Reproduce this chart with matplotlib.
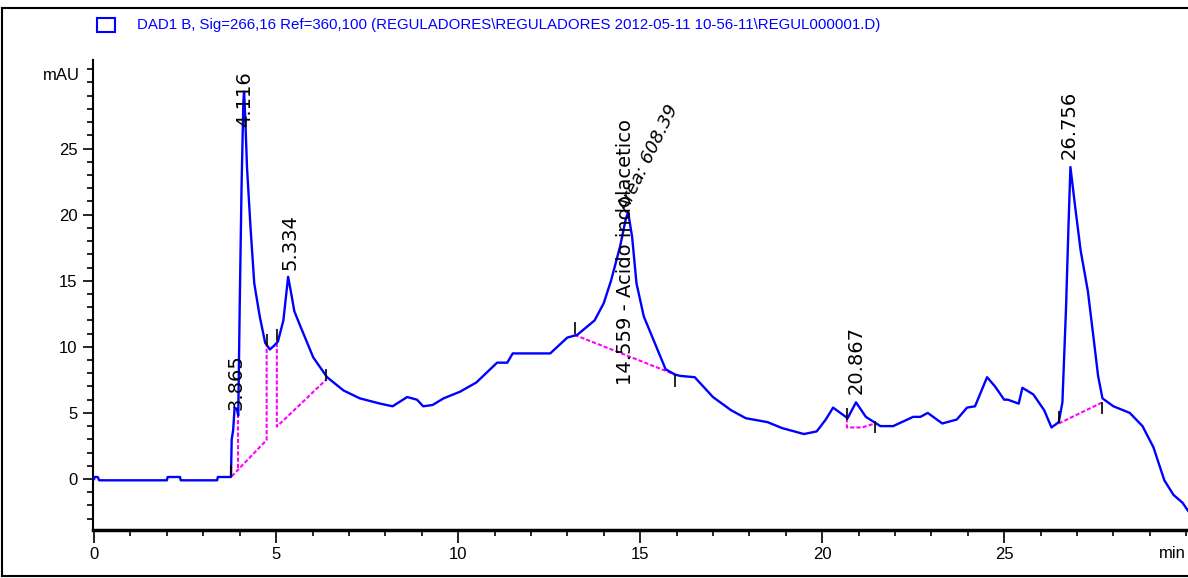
import matplotlib
matplotlib.use("Agg")
import matplotlib.pyplot as plt
from matplotlib.lines import Line2D
from matplotlib.patches import Rectangle
from matplotlib.ticker import MultipleLocator

# ---- data ----
time_min = [0.0, 0.02, 0.1, 0.14, 2.0, 2.02, 2.36, 2.38, 3.38, 3.4, 3.76,
            3.78, 3.82, 3.86, 3.92, 3.96, 4.0, 4.05, 4.10, 4.12, 4.15, 4.2,
            4.3, 4.4, 4.55, 4.7, 4.83, 4.95, 5.05, 5.2, 5.33, 5.43, 5.5, 5.66,
            6.02, 6.4, 6.85, 7.3, 7.86, 8.2, 8.6, 8.87, 9.04, 9.3, 9.6, 10.05,
            10.5, 11.07, 11.35, 11.5, 12.53, 13.0, 13.27, 13.75, 14.0, 14.2,
            14.45, 14.6, 14.67, 14.78, 14.9, 15.1, 15.4, 15.7, 15.96, 16.1,
            16.5, 17.0, 17.5, 17.9, 18.5, 18.9, 19.5, 19.85, 20.1, 20.3, 20.7,
            20.93, 21.2, 21.6, 21.95, 22.5, 22.7, 22.9, 23.3, 23.7, 23.98,
            24.2, 24.53, 24.75, 25.0, 25.1, 25.4, 25.5, 25.8, 26.1, 26.3,
            26.5, 26.6, 26.7, 26.77, 26.82, 26.95, 27.1, 27.3, 27.45, 27.58,
            27.7, 28.0, 28.45, 28.8, 29.1, 29.4, 29.65, 29.9, 30.05]
signal_mau = [0.0, 0.15, 0.15, -0.1, -0.1, 0.15, 0.15, -0.1, -0.1, 0.15, 0.15,
              3.0, 3.7, 5.4, 5.3, 4.8, 13.0, 22.0, 28.5, 29.3, 27.5, 23.6,
              18.9, 14.8, 12.3, 10.3, 9.8, 10.1, 10.4, 12.0, 15.3, 13.8, 12.7,
              11.6, 9.2, 7.7, 6.7, 6.1, 5.7, 5.5, 6.2, 6.0, 5.5, 5.6, 6.1, 6.6,
              7.3, 8.8, 8.8, 9.5, 9.5, 10.7, 10.9, 12.0, 13.3, 15.0,
              17.6, 19.6, 20.2, 18.3, 14.8, 12.3, 10.3, 8.3, 7.9, 7.8,
              7.7, 6.2, 5.2, 4.6, 4.3, 3.85, 3.4, 3.6, 4.5, 5.4, 4.6,
              5.8, 4.7, 4.0, 4.0, 4.7, 4.7, 5.0, 4.2, 4.5, 5.4,
              5.5, 7.7, 7.0, 6.0, 6.0, 5.7, 6.9, 6.4, 5.2, 3.9,
              4.3, 5.8, 13.0, 19.4, 23.6, 20.6, 17.3, 14.2, 10.8, 7.8,
              6.1, 5.5, 5.0, 4.0, 2.4, -0.1, -1.2, -1.8, -2.4]

# integration baselines (magenta), each a polyline of (time, mAU)
baselines = [
    ([3.78, 4.74, 4.74], [0.2, 2.95, 10.1]),
    ([3.96, 3.96], [0.8, 4.8]),
    ([5.02, 5.02, 6.37], [10.3, 3.96, 7.5]),
    ([13.2, 15.96], [10.9, 7.9]),
    ([20.68, 20.68, 21.1, 21.45], [4.6, 3.9, 3.9, 4.2]),
    ([26.5, 27.7], [4.2, 5.8]),
]
tick_marks_t = [3.76, 4.74, 5.02, 6.37, 13.2, 15.96, 20.68, 21.45, 26.5, 27.7]
tick_marks_y = [0.6, 10.5, 10.9, 7.9, 11.4, 7.4, 4.9, 3.9, 4.7, 5.4]

peak_labels = ["3.865", "4.116", "5.334", "14.559 - Acido indolacetico",
               "20.867", "26.756"]
peak_label_t = [3.89, 4.13, 5.38, 14.6, 20.93, 26.78]
peak_label_y = [5.2, 26.6, 15.8, 7.1, 6.4, 24.2]

area_text = "Area: 608.39"
legend_text = ("DAD1 B, Sig=266,16 Ref=360,100 (REGULADORES\\REGULADORES "
               "2012-05-11 10-56-11\\REGUL000001.D)")

y_ticks = [0, 5, 10, 15, 20, 25]
x_ticks = [0, 5, 10, 15, 20, 25]

# ---- figure ----
W, H = 1188, 578
fig = plt.figure(figsize=(W / 100, H / 100), dpi=100)
fig.patch.set_facecolor("white")


def fx(px):
    return px / W


def fy(py):
    return 1 - py / H


ax = fig.add_axes([fx(93), fy(530), fx(1188) - fx(93), fy(60) - fy(530)])
ax.set_xlim(-0.03, 30.05)
ax.set_ylim(-3.86, 31.7)

ax.plot(time_min, signal_mau, color="#0000ff", lw=1.7, zorder=3)
for bt, by in baselines:
    ax.plot(bt, by, color="#ff00ff", lw=1.5, ls=(0, (2, 1)), zorder=2)
ax.plot(tick_marks_t, tick_marks_y, ls="none", marker="|", ms=9,
        mew=1.2, color="black", zorder=4)

for lab, t, yv in zip(peak_labels, peak_label_t, peak_label_y):
    ax.text(t, yv, lab, rotation=90, ha="center", va="bottom",
            fontsize=14, family="DejaVu Sans", color="black", zorder=5)
ax.text(14.76, 20.0, area_text, rotation=64, rotation_mode="anchor",
        ha="left", va="bottom", fontsize=13, family="DejaVu Sans",
        style="italic", color="black", zorder=5)

for s in ("top", "right"):
    ax.spines[s].set_visible(False)
ax.spines["left"].set_linewidth(1.5)
ax.spines["bottom"].set_linewidth(2.5)

ax.set_xticks(x_ticks)
ax.set_yticks(y_ticks)
ax.xaxis.set_minor_locator(MultipleLocator(1))
ax.yaxis.set_minor_locator(MultipleLocator(1))
ax.tick_params(axis="x", which="major", length=9, width=1.2, pad=3,
               labelsize=12)
ax.tick_params(axis="x", which="minor", length=4, width=1.2)
ax.tick_params(axis="y", which="major", length=7, width=1.2, pad=4,
               labelsize=12)
ax.tick_params(axis="y", which="minor", length=4, width=1.2)
for lbl in ax.get_xticklabels() + ax.get_yticklabels():
    lbl.set_family("Liberation Sans")

fig.text(fx(80), fy(75), "mAU", ha="right", va="center", fontsize=12,
         family="Liberation Sans")
fig.text(fx(1186), fy(553), "min", ha="right", va="center", fontsize=12,
         family="Liberation Sans")

# legend
fig.add_artist(Rectangle((fx(97), fy(32)), fx(115) - fx(97), fy(18) - fy(32),
                         fill=False, edgecolor="#0000ff", lw=1.5,
                         transform=fig.transFigure))
fig.text(fx(137), fy(25), legend_text, ha="left", va="center",
         fontsize=10.8, family="Liberation Sans", color="#0000ff")

# outer frame
fig.add_artist(Line2D([fx(2), fx(2)], [fy(8), fy(576)], color="black",
                      lw=1.5, transform=fig.transFigure))
fig.add_artist(Line2D([fx(2), 1], [fy(8), fy(8)], color="black",
                      lw=1.5, transform=fig.transFigure))
fig.add_artist(Line2D([fx(2), 1], [fy(576), fy(576)], color="black",
                      lw=1.5, transform=fig.transFigure))

fig.savefig("out.png", dpi=100)
